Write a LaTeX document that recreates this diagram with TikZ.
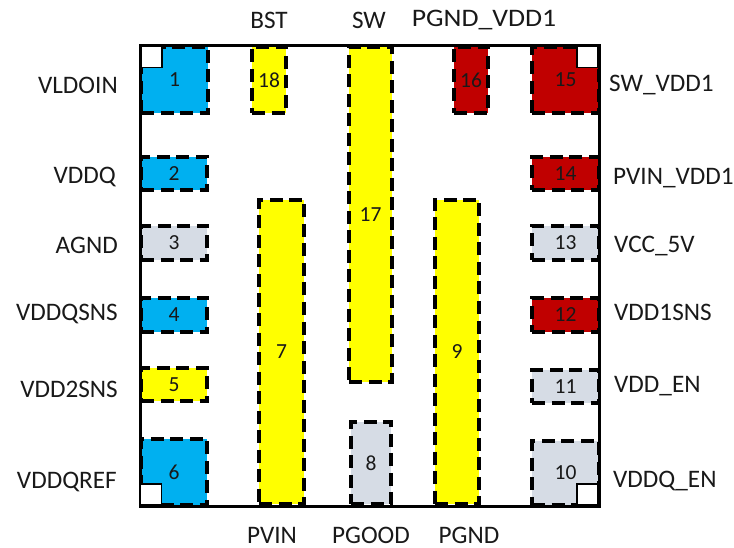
\documentclass[tikz,border=0pt]{standalone}
\usepackage{fontspec}
\setmainfont{Carlito}
\definecolor{padblue}{HTML}{00B0F0}
\definecolor{padyellow}{HTML}{FFFF00}
\definecolor{padred}{HTML}{C00000}
\definecolor{padgrey}{HTML}{D6DCE5}
\tikzset{
  pad/.style={rectangle,draw=black,line width=3.1pt,dash pattern=on 13pt off 6.5pt,inner sep=0pt,font=\fontsize{21.5}{24}\selectfont,text=black!90},
  bluepad/.style={pad,fill=padblue},
  yellowpad/.style={pad,fill=padyellow},
  redpad/.style={pad,fill=padred},
  greypad/.style={pad,fill=padgrey},
  pinlabel/.style={inner sep=0pt,font=\fontsize{25.2}{28}\selectfont,text=black!90},
  cornerbox/.style={rectangle,fill=white,draw=black,line width=1.8pt,inner sep=0pt,minimum width=21pt,minimum height=21pt},
  frame/.style={rectangle,draw=black,line width=3pt,inner sep=0pt,minimum width=459pt,minimum height=460pt}
}
\newcommand{\padat}[7]{% style,name,x0,y0,x1,y1,text
  \node[#1,minimum width=#5pt-#3pt,minimum height=#6pt-#4pt] (#2) at ({(#3+#5)/2},{(#4+#6)/2}) {#7};}
\begin{document}
\begin{tikzpicture}[x=1pt,y=-1pt]
\useasboundingbox (0,0) rectangle (734,548);
\padat{bluepad}{p1}{141}{47}{208}{113}{1}
\padat{bluepad}{p2}{141}{157}{207}{190}{2}
\padat{greypad}{p3}{141}{226}{207}{260}{3}
\padat{bluepad}{p4}{141}{298}{207}{332}{4}
\padat{yellowpad}{p5}{141}{368}{207}{401}{5}
\padat{bluepad}{p6}{141}{439}{207}{505}{6}
\padat{yellowpad}{p7}{259}{200}{304}{504}{7}
\padat{greypad}{p8}{351}{422}{391}{504}{8}
\padat{yellowpad}{p9}{435}{200}{479}{504}{9}
\padat{greypad}{p10}{532}{441}{599}{505}{10}
\padat{greypad}{p11}{532}{370}{599}{403}{11}
\padat{redpad}{p12}{532}{298}{599}{332}{12}
\padat{greypad}{p13}{532}{226}{599}{260}{13}
\padat{redpad}{p14}{532}{157}{599}{190}{14}
\padat{redpad}{p15}{532}{47}{599}{113}{15}
\padat{redpad}{p16}{454}{47}{488}{113}{16}
\padat{yellowpad}{p17}{349}{47}{392}{382}{17}
\padat{yellowpad}{p18}{252}{47}{286}{113}{18}
\node[frame] (outer) at (369.5,276) {};
\node[cornerbox] (c1) at (151.5,57) {};
\node[cornerbox] (c6) at (151,494.5) {};
\node[cornerbox] (c10) at (587.5,494.5) {};
\node[cornerbox] (c15) at (587.5,57) {};
\node[pinlabel,anchor=east] (lVLDOIN) at (118,85) {VLDOIN};
\node[pinlabel,anchor=east] (lVDDQ) at (116,177) {VDDQ};
\node[pinlabel,anchor=east] (lAGND) at (118,245) {AGND};
\node[pinlabel,anchor=east] (lVDDQSNS) at (118,313.5) {VDDQSNS};
\node[pinlabel,anchor=east] (lVDD2SNS) at (118,389) {VDD2SNS};
\node[pinlabel,anchor=east] (lVDDQREF) at (117,482) {VDDQREF};
\node[pinlabel,anchor=west] (lSW) at (609,85) {SW\_VDD1};
\node[pinlabel,anchor=west] (lPVIN) at (613,178) {PVIN\_VDD1};
\node[pinlabel,anchor=west] (lVCC) at (614,246) {VCC\_5V};
\node[pinlabel,anchor=west] (lVDD1) at (614,312) {VDD1SNS};
\node[pinlabel,anchor=west] (lVDDEN) at (614,386.5) {VDD\_EN};
\node[pinlabel,anchor=west] (lVDDQEN) at (613,481) {VDDQ\_EN};
\node[pinlabel] (lBST) at (269,20) {BST};
\node[pinlabel] (lSWt) at (369,20) {SW};
\node[pinlabel,xscale=1.1] (lPGNDV) at (484,20) {PGND\_VDD1};
\node[pinlabel] (lPVINb) at (272,535) {PVIN};
\node[pinlabel] (lPGOOD) at (371,535) {PGOOD};
\node[pinlabel] (lPGND) at (469,535) {PGND};
\end{tikzpicture}
\end{document}
